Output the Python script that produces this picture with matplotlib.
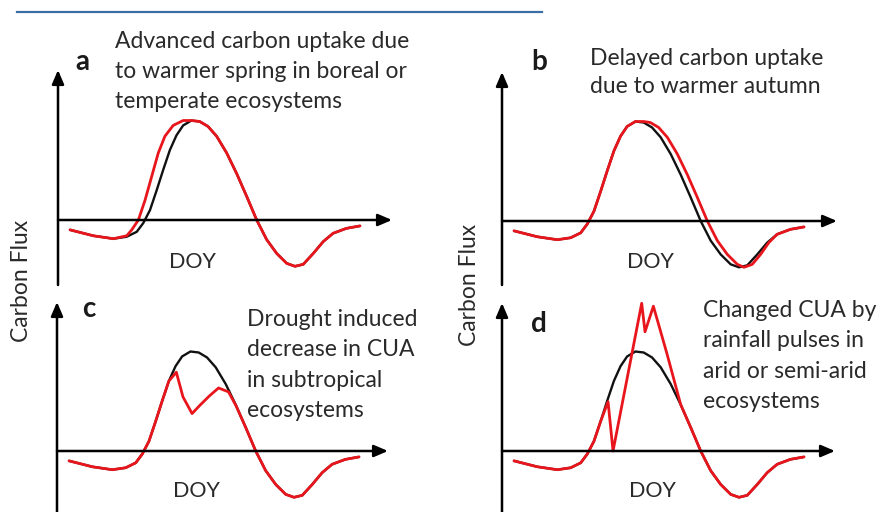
import matplotlib.pyplot as plt

# seasonal cycle of carbon flux (DOY, relative flux)
doy_base = [14.5, 42.6, 66.8, 82.9, 95, 103, 111, 119, 127, 135, 143, 151, 161, 171, 181,
            191.5, 203.6, 215.7, 227.7, 239.8, 251.9, 264, 276, 286, 296, 308, 320, 332, 348,
            364.5]
flux_base = [-0.10, -0.16, -0.19, -0.17, -0.12, -0.03, 0.10, 0.30, 0.51, 0.71, 0.86, 0.96, 1.01,
             1.00, 0.95, 0.85, 0.68, 0.47, 0.24, 0.0, -0.20, -0.34, -0.44, -0.47, -0.45, -0.34,
             -0.22, -0.135, -0.085, -0.06]

# a: advanced spring uptake
doy_a = [14.5, 42.6, 66.8, 83, 89, 97, 105, 113, 121, 129, 139, 151, 161, 171, 181, 191.5,
         203.6, 215.7, 227.7, 239.8, 251.9, 264, 276, 286, 296, 308, 320, 332, 348, 364.5]
flux_a = [-0.10, -0.16, -0.19, -0.16, -0.10, 0.0, 0.20, 0.44, 0.68, 0.85, 0.96, 1.01, 1.01, 1.00,
          0.95, 0.85, 0.68, 0.47, 0.24, 0.0, -0.20, -0.34, -0.44, -0.47, -0.45, -0.34, -0.22,
          -0.135, -0.085, -0.06]

# b: delayed autumn
doy_b = [14.5, 42.6, 66.8, 82.9, 95, 103, 111, 119, 127, 135, 143, 151, 161, 171, 179, 189,
         199.5, 211.6, 223.7, 235.7, 247.8, 259.9, 272, 284, 292, 302, 312, 322, 332, 348, 364.5]
flux_b = [-0.10, -0.16, -0.19, -0.17, -0.12, -0.03, 0.10, 0.30, 0.51, 0.71, 0.86, 0.96, 1.01,
          1.01, 1.00, 0.95, 0.85, 0.68, 0.47, 0.24, 0.0, -0.20, -0.34, -0.44, -0.47, -0.44, -0.34,
          -0.22, -0.135, -0.085, -0.06]

# c: drought
doy_c = [14.5, 42.6, 66.8, 82.9, 95, 103, 111, 119, 127, 135, 144, 152, 163, 172, 184, 195,
         207, 216, 227.7, 239.8, 251.9, 264, 276, 286, 296, 308, 320, 332, 348, 364.5]
flux_c = [-0.10, -0.16, -0.19, -0.17, -0.12, -0.03, 0.10, 0.30, 0.51, 0.71, 0.80, 0.55, 0.38,
          0.46, 0.56, 0.64, 0.60, 0.46, 0.24, 0.0, -0.20, -0.34, -0.44, -0.47, -0.45, -0.34,
          -0.22, -0.135, -0.085, -0.06]

# d: rainfall pulses
doy_d = [14.5, 42.6, 66.8, 82.9, 95, 103, 111, 119, 128, 134, 168.6, 172.6, 182.7, 199, 215.7,
         227.7, 239.8, 251.9, 264, 276, 286, 296, 308, 320, 332, 348, 364.5]
flux_d = [-0.10, -0.16, -0.19, -0.17, -0.12, -0.03, 0.10, 0.30, 0.50, 0.0, 1.50, 1.21, 1.47, 0.99,
          0.47, 0.24, 0.0, -0.20, -0.34, -0.44, -0.47, -0.45, -0.34, -0.22, -0.135, -0.085, -0.06]

letters = ["a", "b", "c", "d"]
captions = [
    ["Advanced carbon uptake due", "to warmer spring in boreal or", "temperate ecosystems"],
    ["Delayed carbon uptake", "due to warmer autumn"],
    ["Drought induced", "decrease in CUA", "in subtropical", "ecosystems"],
    ["Changed CUA by", "rainfall pulses in", "arid or semi-arid", "ecosystems"],
]
red_doy = [doy_a, doy_b, doy_c, doy_d]
red_flux = [flux_a, flux_b, flux_c, flux_d]

W, H = 879, 512
SX, SY = 0.8286, 98.5  # px per DOY, px per flux unit
RED = "#e8161c"
TXT = "#2a2a2a"
FONT = "Lato"

fig = plt.figure(figsize=(W / 100, H / 100), dpi=100)

# panel layout in pixels: axes box, origin, y-axis top/bottom, x-axis tip
boxes = [(0, 0, 440, 290), (440, 0, 879, 290), (0, 290, 440, 512), (440, 290, 879, 512)]
origins = [(58, 220), (502, 221), (57, 451), (502, 451)]
ytops = [70, 72, 302, 303]
ybots = [285, 285, 512, 512]
xtips = [392, 837, 388, 835]
letter_pos = [(75, 70), (531, 70), (82, 317), (531, 332)]
cap_pos = [(115, 48), (590, 65), (247, 326), (703, 317)]
cap_pitch = [30, 28, 30.3, 30.3]
doy_pos = [(192, 268), (650, 268), (196, 497), (652, 497)]

def px(x, y):
    return x / W, 1 - y / H

for i in range(4):
    l, t, r, b = boxes[i]
    ox, oy = origins[i]
    ax = fig.add_axes([l / W, 1 - b / H, (r - l) / W, (b - t) / H])
    ax.set_xlim((l - ox) / SX, (r - ox) / SX)
    ax.set_ylim((oy - b) / SY, (oy - t) / SY)
    ax.axis("off")

    # arrow axes
    arrow = dict(arrowstyle="-|>,head_length=0.7,head_width=0.3", lw=1.8, color="black",
                 shrinkA=0, shrinkB=0, mutation_scale=12)
    ax.annotate("", xy=(0, (oy - ytops[i]) / SY), xytext=(0, (oy - ybots[i]) / SY),
                arrowprops=arrow, annotation_clip=False)
    ax.annotate("", xy=((xtips[i] - ox) / SX, 0), xytext=(0, 0),
                arrowprops=arrow, annotation_clip=False)

    ax.plot(doy_base, flux_base, color="#111111", lw=1.7, solid_joinstyle="round",
            solid_capstyle="round", clip_on=False)
    ax.plot(red_doy[i], red_flux[i], color=RED, lw=2.0, solid_joinstyle="round",
            solid_capstyle="round", clip_on=False)

    fig.text(*px(*letter_pos[i]), letters[i], fontsize=20, fontweight="bold",
             family=FONT, color="#1a1a1a", va="baseline", ha="left")
    cx, cy = cap_pos[i]
    for j, line in enumerate(captions[i]):
        fig.text(*px(cx, cy + j * cap_pitch[i]), line, fontsize=16.5, family=FONT,
                 color=TXT, va="baseline", ha="left")
    fig.text(*px(*doy_pos[i]), "DOY", fontsize=15.5, family=FONT, color=TXT,
             va="baseline", ha="center")

fig.text(*px(22, 281), "Carbon Flux", rotation=90, fontsize=16.5, family=FONT,
         color=TXT, va="center", ha="center")
fig.text(*px(470, 285), "Carbon Flux", rotation=90, fontsize=16.5, family=FONT,
         color=TXT, va="center", ha="center")

# thin blue rule at the top
fig.add_artist(plt.Line2D([17 / W, 542 / W], [1 - 11.5 / H, 1 - 11.5 / H],
                          color="#3a6ea5", lw=1.6))

fig.savefig("out.png", dpi=100)
